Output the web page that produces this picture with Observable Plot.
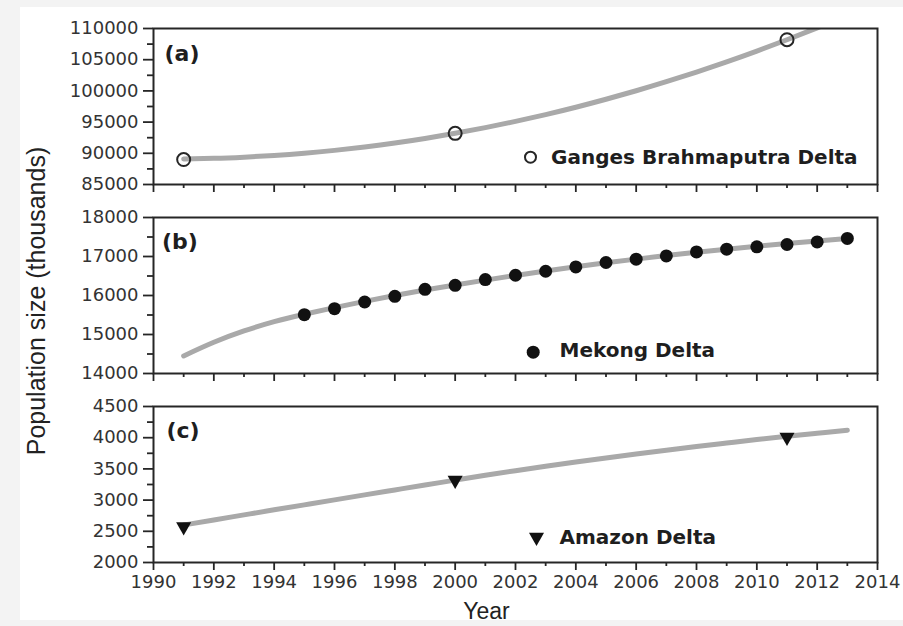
<!DOCTYPE html>
<html>
<head>
<meta charset="utf-8">
<script src="https://cdn.jsdelivr.net/npm/d3@7"></script>
<script src="https://cdn.jsdelivr.net/npm/@observablehq/plot@0.6"></script>
<style>
  body { margin: 0; background: #f3f3f3; }
  #wrap { position: relative; width: 903px; height: 626px; overflow: hidden; }
  #paper { position: absolute; left: 20px; top: 7px; width: 883px; height: 613px; background: #fff; }
  #wrap svg { position: absolute; left: 0; }
</style>
</head>
<body>
<div id="wrap"><div id="paper"></div></div>
<script>
// ---------- data ----------
const curveYears = [1991,1992,1993,1994,1995,1996,1997,1998,1999,2000,2001,2002,2003,2004,2005,2006,2007,2008,2009,2010,2011,2012,2013];

// (a) Ganges Brahmaputra Delta
const gangesCurve = [89100,89190,89380,89650,90010,90470,91020,91650,92380,93200,94110,95110,96200,97380,98660,100020,101470,103020,104650,106380,108200,110110,112100];
const gangesYears = [1991,2000,2011];
const gangesPop   = [89000,93200,108200];

// (b) Mekong Delta
const mekongCurve = [14450,14800,15090,15330,15520,15690,15850,16000,16140,16270,16395,16515,16628,16735,16838,16933,17023,17107,17186,17261,17332,17399,17462];
const mekongYears = [1995,1996,1997,1998,1999,2000,2001,2002,2003,2004,2005,2006,2007,2008,2009,2010,2011,2012,2013];
const mekongPop   = [15509,15663,15833,15979,16159,16262,16409,16519,16622,16733,16846,16931,17015,17118,17188,17247,17308,17375,17463];

// (c) Amazon Delta
const amazonCurve = [2600,2682,2763,2844,2924,3004,3084,3163,3242,3320,3398,3471,3541,3609,3675,3739,3800,3859,3915,3970,4022,4071,4119];
const amazonYears = [1991,2000,2011];
const amazonPop   = [2574,3319,4008];

// ticks & labels
const xTicks  = [1990,1992,1994,1996,1998,2000,2002,2004,2006,2008,2010,2012,2014];
const xMinor  = [1991,1993,1995,1997,1999,2001,2003,2005,2007,2009,2011,2013];
const yTicksA = [85000,90000,95000,100000,105000,110000];
const yMinorA = [87500,92500,97500,102500,107500];
const yTicksB = [14000,15000,16000,17000,18000];
const yMinorB = [14500,15500,16500,17500];
const yTicksC = [2000,2500,3000,3500,4000,4500];
const yMinorC = [2250,2750,3250,3750,4250];
const panelLabels  = ["(a)","(b)","(c)"];
const legendLabels = ["Ganges Brahmaputra Delta","Mekong Delta","Amazon Delta"];
const yTitle = "Population size (thousands)";
const xTitle = "Year";

// ---------- drawing ----------
const INK = "#262626";
const LINE = "#a9a9a9";
const curveRows = (vals) => curveYears.map((yr, i) => ({year: yr, value: vals[i]}));
const pointRows = (yrs, vals) => yrs.map((yr, i) => ({year: yr, value: vals[i]}));

function panel({top, height, marginBottom, yDomain, yTicks, yMinor, showX, marks}) {
  const svg = Plot.plot({
    width: 903, height, marginTop: 28, marginBottom, marginLeft: 153, marginRight: 26,
    style: {background: "transparent", fontFamily: "'DejaVu Sans', sans-serif", fontSize: "18px", color: "#333", overflow: "visible"},
    x: {domain: [1990, 2014], label: null},
    y: {domain: yDomain, label: null},
    marks: [
      Plot.axisY({ticks: yMinor, tickSize: 6, tickFormat: () => "", label: null, stroke: INK, strokeWidth: 1.8}),
      Plot.axisY({ticks: yTicks, tickSize: 10, tickPadding: 5, tickFormat: "d", label: null, stroke: INK, strokeWidth: 1.8}),
      Plot.axisX({ticks: xMinor, tickSize: 4, tickFormat: () => "", label: null, stroke: INK, strokeWidth: 1.8}),
      Plot.axisX({ticks: xTicks, tickSize: 8, tickPadding: 5, tickFormat: showX ? "d" : () => "", label: null, stroke: INK, strokeWidth: 1.8}),
      ...marks,
      Plot.frame({stroke: INK, strokeWidth: 2})
    ]
  });
  svg.style.top = top + "px";
  document.getElementById("wrap").appendChild(svg);
}

const labelStyle = {text: d => d, frameAnchor: "top-left", lineAnchor: "bottom", textAnchor: "start", fill: "#1e1e1e"};
const panelLabelStyle = {...labelStyle, fontSize: 22, fontWeight: "bold", fontFamily: "'DejaVu Sans', sans-serif"};
const legendStyle = {...labelStyle, fontSize: 20, fontWeight: "bold", fontFamily: "'DejaVu Sans', sans-serif"};

// (a)
panel({
  top: 0, height: 200, marginBottom: 16, yDomain: [85000, 110000], yTicks: yTicksA, yMinor: yMinorA, showX: false,
  marks: [
    Plot.line(curveRows(gangesCurve), {x: "year", y: "value", stroke: LINE, strokeWidth: 5, curve: "natural", clip: true}),
    Plot.dot(pointRows(gangesYears, gangesPop), {x: "year", y: "value", r: 6.5, stroke: INK, strokeWidth: 2, fill: "none"}),
    Plot.text([panelLabels[0]], {...panelLabelStyle, dx: 11, dy: 32}),
    Plot.dot([legendLabels[0]], {frameAnchor: "top-left", dx: 377, dy: 128.7, r: 5.5, stroke: INK, strokeWidth: 2, fill: "white"}),
    Plot.text([legendLabels[0]], {...legendStyle, dx: 397.5, dy: 135})
  ]
});

// (b)
panel({
  top: 189, height: 200, marginBottom: 16, yDomain: [14000, 18000], yTicks: yTicksB, yMinor: yMinorB, showX: false,
  marks: [
    Plot.line(curveRows(mekongCurve), {x: "year", y: "value", stroke: LINE, strokeWidth: 5, curve: "natural", clip: true}),
    Plot.dot(pointRows(mekongYears, mekongPop), {x: "year", y: "value", r: 6.5, fill: "#111", stroke: "none"}),
    Plot.text([panelLabels[1]], {...panelLabelStyle, dx: 8.5, dy: 31.7}),
    Plot.dot([legendLabels[1]], {frameAnchor: "top-left", dx: 379.7, dy: 134.7, r: 6.5, fill: "#111", stroke: "none"}),
    Plot.text([legendLabels[1]], {...legendStyle, dx: 406, dy: 139.7}),
    Plot.text([yTitle], {text: d => d, frameAnchor: "left", textAnchor: "middle", lineAnchor: "middle", dx: -117, dy: 5.5, rotate: -90, fontSize: 25, fontFamily: "'Liberation Sans', Arial, sans-serif", fill: "#222"})
  ]
});

// (c)
panel({
  top: 378, height: 248, marginBottom: 64, yDomain: [2000, 4500], yTicks: yTicksC, yMinor: yMinorC, showX: true,
  marks: [
    Plot.line(curveRows(amazonCurve), {x: "year", y: "value", stroke: LINE, strokeWidth: 5, curve: "natural", clip: true}),
    Plot.dot(pointRows(amazonYears, amazonPop), {x: "year", y: "value", r: 5.6, symbol: "triangle", rotate: 180, fill: "#111", stroke: "none"}),
    Plot.text([panelLabels[2]], {...panelLabelStyle, dx: 13, dy: 31.7}),
    Plot.dot([legendLabels[2]], {frameAnchor: "top-left", dx: 383, dy: 130.7, r: 5.6, symbol: "triangle", rotate: 180, fill: "#111", stroke: "none"}),
    Plot.text([legendLabels[2]], {...legendStyle, dx: 406, dy: 137.3}),
    Plot.text([xTitle], {text: d => d, frameAnchor: "bottom", dx: -29, dy: 56, lineAnchor: "bottom", fontSize: 23, fontFamily: "'Liberation Sans', Arial, sans-serif", fill: "#222"})
  ]
});
</script>
</body>
</html>
